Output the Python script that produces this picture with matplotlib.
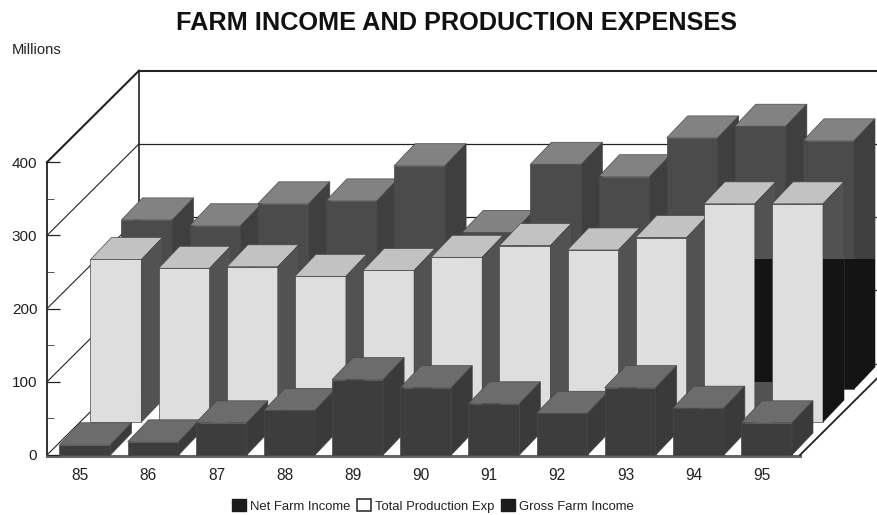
import matplotlib
matplotlib.use("Agg")
import matplotlib.pyplot as plt
from matplotlib.patches import Polygon, Rectangle

plt.rcParams['font.family'] = ['Liberation Sans', 'DejaVu Sans']

years = ['85', '86', '87', '88', '89', '90', '91', '92', '93', '94', '95']
net_income = [14, 18, 44, 61, 103, 92, 70, 57, 92, 64, 44]
production_exp = [222, 210, 212, 199, 207, 225, 241, 235, 252, 298, 298]
gross_income = [231, 223, 253, 257, 305, 214, 307, 290, 343, 359, 339]
y_ticks = [0, 100, 200, 300, 400]
y_minor = [50, 150, 250, 350]

W, H = 878, 515
PX_X, PX_Y = 68.15, 0.732          # pixels per category / per value unit
ROW_DX, ROW_DY = 31 / PX_X, 33 / PX_Y
BAR_W = 51 / PX_X
DEP_X, DEP_Y = 21 / PX_X, 22 / PX_Y
WALL_X, WALL_Y = 92 / PX_X, 91.5 / PX_Y

fig = plt.figure(figsize=(W / 100, H / 100), dpi=100)
ax = fig.add_axes([47 / W, (H - 455) / H, 753 / W, 383 / H])
xmin = -38 / PX_X
ax.set_xlim(xmin, xmin + 753 / PX_X)
ax.set_ylim(0, 383 / PX_Y)
for s in ax.spines.values():
    s.set_visible(False)

ax.set_xticks([i - 0.07 for i in range(len(years))], years, fontsize=11.2)
ax.tick_params(axis='x', length=0, pad=9, labelcolor='#222222')
ax.set_yticks(y_ticks, [str(v) for v in y_ticks], fontsize=11)
ax.set_yticks(y_minor, minor=True)
ax.tick_params(axis='y', which='major', direction='in', length=9, width=0.9, pad=7, color='#222222', labelcolor='#222222')
ax.tick_params(axis='y', which='minor', direction='in', length=5, width=0.7, color='#555555')

x_left = xmin
x_right = xmin + 753 / PX_X
LINE = '#222222'
# left wall, floor edge, back wall
ax.plot([x_left, x_left], [0, 400], color=LINE, lw=1.3, clip_on=False, zorder=1)
for v in y_ticks:
    ax.plot([x_left, x_left + WALL_X], [v, v + WALL_Y], color=LINE,
            lw=1.5 if v == 400 else 0.8, clip_on=False, zorder=1)
    ax.plot([x_left + WALL_X, x_right + WALL_X], [v + WALL_Y] * 2, color=LINE,
            lw=1.5 if v == 400 else 0.9, clip_on=False, zorder=1)
ax.plot([x_left + WALL_X] * 2, [WALL_Y, 400 + WALL_Y], color=LINE, lw=1.2, clip_on=False, zorder=1)
ax.plot([x_left, x_right], [-1, -1], color='#666666', lw=2.2, clip_on=False, zorder=1)
ax.plot([x_right, x_right + WALL_X], [0, WALL_Y], color=LINE, lw=1.3, clip_on=False, zorder=1)

DARK_TOP = 268     # scanned-in black band of the original, expressed on the value scale


def bar(i, r, v, front, top, side, z, dark_front=False, dark_side=None):
    x0 = i - BAR_W / 2 + r * ROW_DX
    y0 = r * ROW_DY
    y1 = y0 + v
    x1 = x0 + BAR_W
    edge = '#484848'
    faces = [
        ([(x0, y0), (x1, y0), (x1, y1), (x0, y1)], front),
        ([(x0, y1), (x1, y1), (x1 + DEP_X, y1 + DEP_Y), (x0 + DEP_X, y1 + DEP_Y)], top),
        ([(x1, y0), (x1 + DEP_X, y0 + DEP_Y), (x1 + DEP_X, y1 + DEP_Y), (x1, y1)], side),
    ]
    for pts, col in faces:
        ax.add_patch(Polygon(pts, closed=True, facecolor=col, edgecolor=edge, lw=0.5,
                             clip_on=False, zorder=z))
    dark = '#141414'
    if dark_front:
        p = Polygon(faces[0][0], closed=True, facecolor=dark, edgecolor='none', zorder=z + 0.1, clip_on=True)
        ax.add_patch(p)
        p.set_clip_path(Rectangle((-5, -50), 30, DARK_TOP + 50, transform=ax.transData))
    if dark_side is not None:
        p = Polygon(faces[2][0], closed=True, facecolor=dark, edgecolor='none', zorder=z + 0.1, clip_on=True)
        ax.add_patch(p)
        p.set_clip_path(Rectangle((-5, dark_side), 30, DARK_TOP - dark_side, transform=ax.transData))


z = 2.0
for i, v in enumerate(gross_income):
    z += 0.2
    last = i >= 9
    bar(i, 2, v, '#4b4b4b', '#828282', '#3f3f3f', z, dark_front=last, dark_side=-50 if last else None)
for i, v in enumerate(production_exp):
    z += 0.2
    ds = 100 if i == 9 else (-50 if i == 10 else None)
    bar(i, 1, v, '#dedede', '#c2c2c2', '#525252', z, dark_side=ds)
for i, v in enumerate(net_income):
    z += 0.2
    bar(i, 0, v, '#3d3d3d', '#6c6c6c', '#3a3a3a', z)

fig.text(456 / W, 1 - 23 / H, 'FARM INCOME AND PRODUCTION EXPENSES', ha='center', va='center',
         fontsize=18.2, fontweight='bold', color='#111111')
fig.text(12 / W, 1 - 50 / H, 'Millions', ha='left', va='center', fontsize=10.6, color='#222222')

handles = [
    Rectangle((0, 0), 1, 1, facecolor='#1c1c1c', edgecolor='#1c1c1c'),
    Rectangle((0, 0), 1, 1, facecolor='white', edgecolor='#222222', lw=1.1),
    Rectangle((0, 0), 1, 1, facecolor='#1c1c1c', edgecolor='#1c1c1c'),
]
fig.legend(handles, ['Net Farm Income', 'Total Production Exp', 'Gross Farm Income'],
           loc='center', bbox_to_anchor=(433 / W, 1 - 506 / H), ncol=3, frameon=False,
           fontsize=9.4, handlelength=1.05, handleheight=1.05, handletextpad=0.35,
           columnspacing=0.5, borderpad=0, labelcolor='#222222')

fig.savefig('out.png', dpi=100)
